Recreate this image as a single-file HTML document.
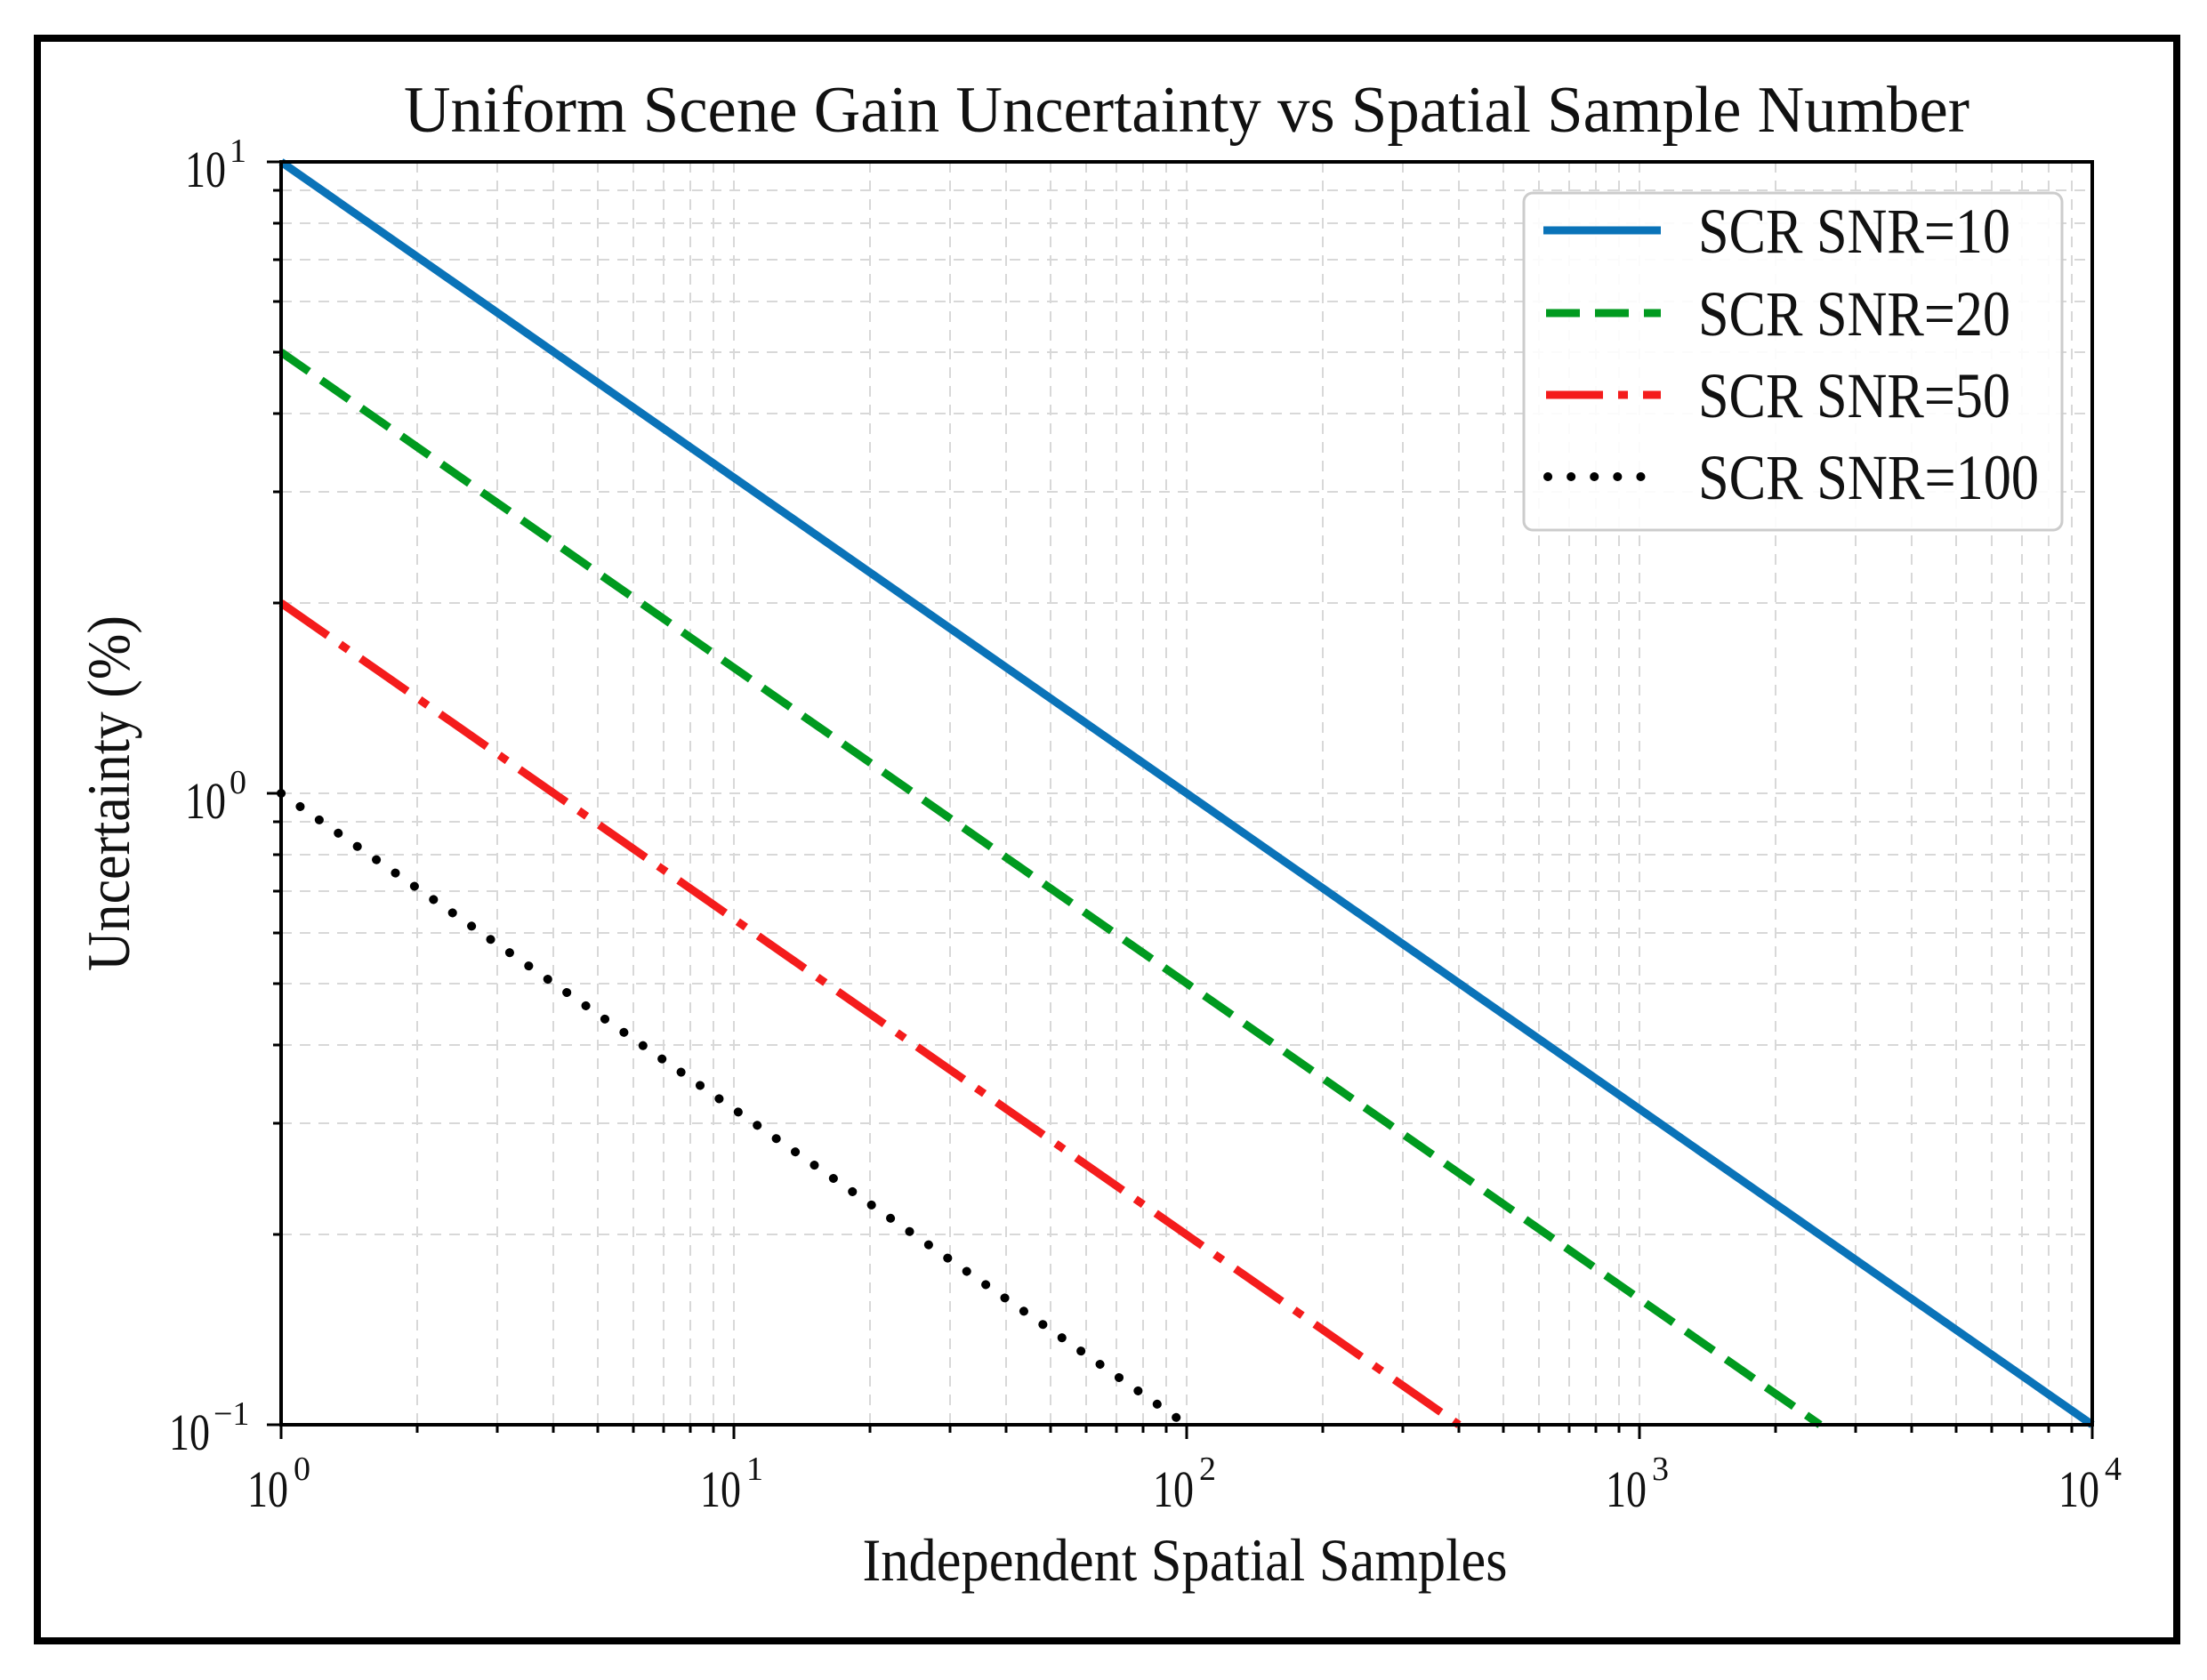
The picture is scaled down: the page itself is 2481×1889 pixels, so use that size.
<!DOCTYPE html>
<html><head><meta charset="utf-8"><style>html,body{margin:0;padding:0;background:#fff}svg{display:block}</style></head>
<body>
<svg width="2481" height="1889" viewBox="0 0 2481 1889" xmlns="http://www.w3.org/2000/svg" font-family="Liberation Serif, serif">
<rect x="0" y="0" width="2481" height="1889" fill="#fff"/>
<rect x="42" y="43" width="2405" height="1802" fill="none" stroke="#000" stroke-width="8"/>
<!-- grid -->
<path fill="none" stroke="#d8d8d8" stroke-width="2" stroke-dasharray="12,9" d="
M469 182V1602M559 182V1602M622 182V1602M672 182V1602M712 182V1602M746 182V1602M776 182V1602M802 182V1602M825 182V1602
M978 182V1602M1068 182V1602M1131 182V1602M1181 182V1602M1221 182V1602M1255 182V1602M1285 182V1602M1311 182V1602M1334 182V1602
M1487 182V1602M1577 182V1602M1640 182V1602M1690 182V1602M1730 182V1602M1764 182V1602M1794 182V1602M1820 182V1602M1843 182V1602
M1996 182V1602M2086 182V1602M2149 182V1602M2199 182V1602M2239 182V1602M2273 182V1602M2303 182V1602M2329 182V1602
M316 214H2352M316 251H2352M316 292H2352M316 339H2352M316 396H2352M316 465H2352M316 553H2352M316 678H2352M316 892H2352
M316 924H2352M316 961H2352M316 1002H2352M316 1049H2352M316 1106H2352M316 1175H2352M316 1263H2352M316 1388H2352"/>
<!-- ticks -->
<path fill="none" stroke="#000" stroke-width="3" d="
M316 1602v16M825 1602v16M1334 1602v16M1843 1602v16M2352 1602v16
M469 1602v9M559 1602v9M622 1602v9M672 1602v9M712 1602v9M746 1602v9M776 1602v9M802 1602v9
M978 1602v9M1068 1602v9M1131 1602v9M1181 1602v9M1221 1602v9M1255 1602v9M1285 1602v9M1311 1602v9
M1487 1602v9M1577 1602v9M1640 1602v9M1690 1602v9M1730 1602v9M1764 1602v9M1794 1602v9M1820 1602v9
M1996 1602v9M2086 1602v9M2149 1602v9M2199 1602v9M2239 1602v9M2273 1602v9M2303 1602v9M2329 1602v9
M300 182h16M300 892h16M300 1602h16
M307 214h9M307 251h9M307 292h9M307 339h9M307 396h9M307 465h9M307 553h9M307 678h9
M307 924h9M307 961h9M307 1002h9M307 1049h9M307 1106h9M307 1175h9M307 1263h9M307 1388h9"/>
<!-- series -->
<line x1="316" y1="396" x2="2046" y2="1602" stroke="#009a1f" stroke-width="9" stroke-dasharray="38,17"/>
<line x1="316" y1="678" x2="1640" y2="1602" stroke="#f41c1c" stroke-width="9" stroke-dasharray="64,17,11,17"/>
<line x1="316" y1="892" x2="1334" y2="1602" stroke="#000" stroke-width="10" stroke-linecap="round" stroke-dasharray="0.1,26"/>
<line x1="316" y1="182" x2="2352" y2="1602" stroke="#0a73b8" stroke-width="9"/>
<rect x="316" y="182" width="2036" height="1420" fill="none" stroke="#000" stroke-width="4"/>
<!-- tick labels -->
<g font-size="58" fill="#111">
<text x="278" y="1694" textLength="46" lengthAdjust="spacingAndGlyphs">10</text><text x="330" y="1664" font-size="38">0</text>
<text x="787" y="1694" textLength="46" lengthAdjust="spacingAndGlyphs">10</text><text x="839" y="1664" font-size="38">1</text>
<text x="1296" y="1694" textLength="46" lengthAdjust="spacingAndGlyphs">10</text><text x="1348" y="1664" font-size="38">2</text>
<text x="1805" y="1694" textLength="46" lengthAdjust="spacingAndGlyphs">10</text><text x="1857" y="1664" font-size="38">3</text>
<text x="2314" y="1694" textLength="46" lengthAdjust="spacingAndGlyphs">10</text><text x="2366" y="1664" font-size="38">4</text>
<text x="208" y="210" textLength="46" lengthAdjust="spacingAndGlyphs">10</text><text x="258" y="182" font-size="38">1</text>
<text x="208" y="920" textLength="46" lengthAdjust="spacingAndGlyphs">10</text><text x="258" y="892" font-size="38">0</text>
<text x="190" y="1630" textLength="46" lengthAdjust="spacingAndGlyphs">10</text><text x="240" y="1602" font-size="38">−1</text>
</g>
<!-- legend -->
<rect x="1713" y="217" width="605" height="379" rx="10" fill="#fff" fill-opacity="0.9" stroke="#ccc" stroke-width="3"/>
<line x1="1735" y1="259" x2="1867" y2="259" stroke="#0a73b8" stroke-width="9"/>
<line x1="1738" y1="352" x2="1867" y2="352" stroke="#009a1f" stroke-width="9" stroke-dasharray="38,17"/>
<line x1="1738" y1="444" x2="1867" y2="444" stroke="#f41c1c" stroke-width="9" stroke-dasharray="64,17,11,17"/>
<line x1="1740" y1="536" x2="1860" y2="536" stroke="#000" stroke-width="10" stroke-linecap="round" stroke-dasharray="0.1,26"/>
<g font-size="72" fill="#111">
<text x="1909" y="284" textLength="351" lengthAdjust="spacingAndGlyphs">SCR SNR=10</text>
<text x="1909" y="377" textLength="351" lengthAdjust="spacingAndGlyphs">SCR SNR=20</text>
<text x="1909" y="469" textLength="351" lengthAdjust="spacingAndGlyphs">SCR SNR=50</text>
<text x="1909" y="561" textLength="383" lengthAdjust="spacingAndGlyphs">SCR SNR=100</text>
</g>
<text x="1334" y="148" font-size="74" text-anchor="middle" fill="#111" textLength="1760" lengthAdjust="spacingAndGlyphs">Uniform Scene Gain Uncertainty vs Spatial Sample Number</text>
<text x="1332" y="1777" font-size="68" text-anchor="middle" fill="#111" textLength="725" lengthAdjust="spacingAndGlyphs">Independent Spatial Samples</text>
<text transform="translate(145,892) rotate(-90)" font-size="68" text-anchor="middle" fill="#111" textLength="400" lengthAdjust="spacingAndGlyphs">Uncertainty (%)</text>
</svg>
</body></html>
